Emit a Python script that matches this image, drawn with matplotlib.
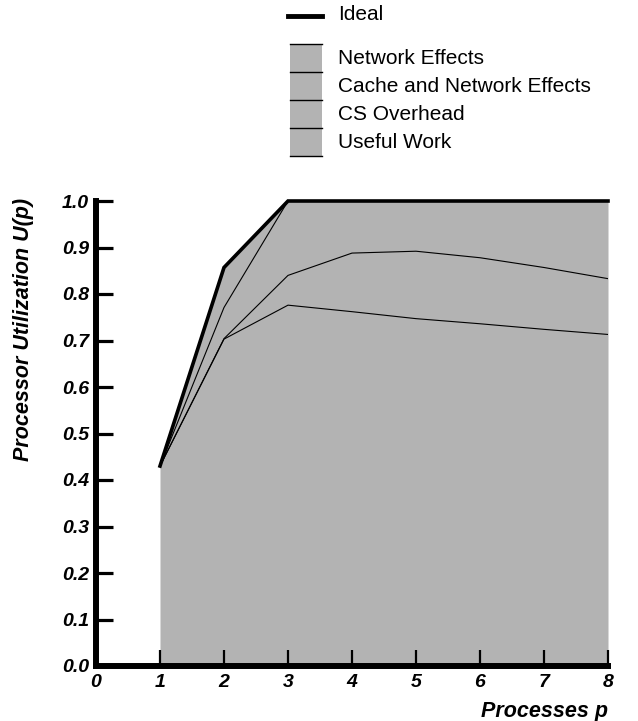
import matplotlib
matplotlib.use('Agg')
import matplotlib.pyplot as plt
from matplotlib.patches import Rectangle

plt.rcParams['font.family'] = ['Liberation Sans', 'DejaVu Sans']

# processes
p = [1, 2, 3, 4, 5, 6, 7, 8]

# utilization boundaries
ideal = [0.43, 0.857, 1.0, 1.0, 1.0, 1.0, 1.0, 1.0]
network = [0.43, 0.771, 1.0, 1.0, 1.0, 1.0, 1.0, 1.0]
cache_network = [0.43, 0.704, 0.840, 0.888, 0.892, 0.878, 0.857, 0.833]
cs_overhead = [0.43, 0.703, 0.776, 0.762, 0.747, 0.736, 0.724, 0.713]

legend_labels = ['Network Effects', 'Cache and Network Effects', 'CS Overhead', 'Useful Work']
gray = '#b3b3b3'

fig = plt.figure(figsize=(6.38, 7.21), dpi=100)
ax = fig.add_axes([96 / 638, 1 - 666 / 721, 512 / 638, 465 / 721])

# stacked area, all bands share the same gray
ax.fill_between(p, 0, ideal, color=gray, lw=0)
ax.plot(p, network, color='black', lw=0.8)
ax.plot(p, cache_network, color='black', lw=0.8)
ax.plot(p, cs_overhead, color='black', lw=0.8)
ax.plot(p, ideal, color='black', lw=2.6, clip_on=False, solid_joinstyle='miter')

ax.set_xlim(0, 8)
ax.set_ylim(0, 1.0)
ax.set_xticks(range(0, 9))
ax.set_yticks([i / 10 for i in range(11)])
ax.set_yticklabels(['%.1f' % (i / 10) for i in range(11)])
ax.spines['top'].set_visible(False)
ax.spines['right'].set_visible(False)
ax.spines['left'].set_linewidth(4.3)
ax.spines['bottom'].set_linewidth(4.3)
ax.tick_params(axis='y', direction='in', length=12, width=2.3, pad=5)
ax.tick_params(axis='x', direction='in', length=11.5, width=1.6, pad=6)
for lab in ax.get_xticklabels() + ax.get_yticklabels():
    lab.set_fontweight('bold')
    lab.set_fontstyle('italic')
    lab.set_fontsize(14)

ax.set_ylabel('Processor Utilization U(p)', fontsize=15.5, fontweight='bold', fontstyle='italic')
ax.yaxis.set_label_coords(-0.122, 0.723)
ax.set_xlabel('Processes p', fontsize=15.5, fontweight='bold', fontstyle='italic', loc='right')
ax.xaxis.set_label_coords(1.0, -0.075)
ax.set_zorder(1)

# legend drawn by hand in its own axes (pixel coords of the figure)
lax = fig.add_axes([0, 0, 1, 1], zorder=0)
lax.set_xlim(0, 638)
lax.set_ylim(721, 0)
lax.axis('off')
lax.plot([288, 322], [16, 16], color='black', lw=3.5)
lax.text(338, 15, 'Ideal', fontsize=15, va='center')
tops = [44, 72, 100, 128]
for top, label in zip(tops, legend_labels):
    lax.add_patch(Rectangle((290, top), 32, 28, facecolor=gray, edgecolor='none'))
    lax.plot([290, 322], [top, top], color='black', lw=1)
    lax.text(338, top + 15, label, fontsize=15, va='center')
lax.plot([290, 322], [156, 156], color='black', lw=1)

fig.savefig('out.png', dpi=100)
